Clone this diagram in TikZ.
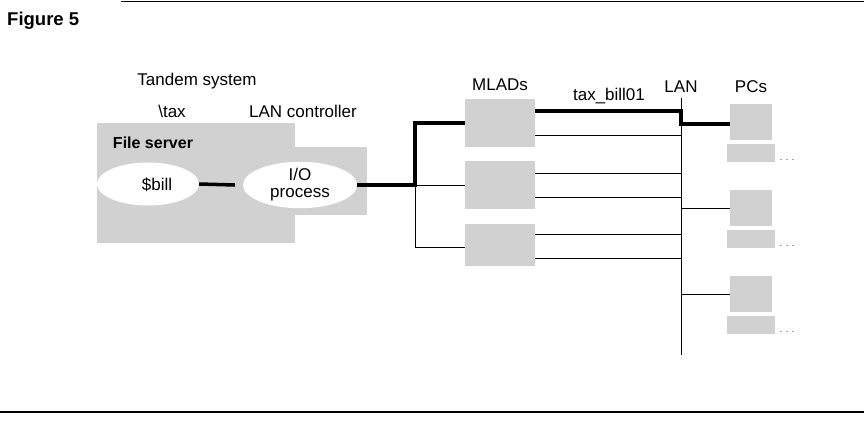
\documentclass[tikz,border=0pt]{standalone}
\usepackage{fontspec}
\setmainfont{Liberation Sans}
\usetikzlibrary{shapes.geometric}
\begin{document}
\begin{tikzpicture}[x=1pt,y=-1pt,
  shadebox/.style={fill=black!18, draw=none, inner sep=0pt},
  whiteell/.style={ellipse, fill=white, draw=none, inner sep=0pt},
  lbl/.style={font=\fontsize{17}{17}\selectfont, inner sep=0pt},
  thickln/.style={line width=3.5pt},
  thinln/.style={line width=1pt},
  rule/.style={line width=1.6pt}]
\useasboundingbox (0,0) rectangle (864,424);

% rules
\coordinate (rt1) at (121,1.5); \coordinate (rt2) at (864,1.5);
\coordinate (rb1) at (0,412); \coordinate (rb2) at (864,412);
\draw[rule] (rt1) -- (rt2);
\draw[rule] (rb1) -- (rb2);

\node[font=\bfseries\fontsize{18.5}{19}\selectfont, anchor=west, inner sep=0pt] (fig) at (7,21) {Figure 5};

% Tandem system shaded area
\node[shadebox, minimum width=198pt, minimum height=120pt] (tandem) at (196,183) {};
\node[shadebox, minimum width=130pt, minimum height=68pt] (lanctl) at (302,181) {};

\node[whiteell, minimum width=102pt, minimum height=43pt] (bill) at (148,184) {};
\node[lbl] (billtxt) at (157,185) {\$bill};
\node[whiteell, minimum width=114pt, minimum height=46pt, align=center, lbl] (io) at (300,185) {I/O\\process};

\node[lbl] (tandemlbl) at (197,81) {Tandem system};
\node[lbl] (taxlbl) at (172,111) {\textbackslash tax};
\node[lbl] (lanctllbl) at (303,111) {LAN controller};
\node[lbl, font=\bfseries\fontsize{16}{17}\selectfont] (fslbl) at (153,143) {File server};

% MLADs
\node[shadebox, minimum width=70pt, minimum height=48pt] (mlad1) at (500,123) {};
\node[shadebox, minimum width=70pt, minimum height=48pt] (mlad2) at (500,185) {};
\node[shadebox, minimum width=70pt, minimum height=42pt] (mlad3) at (500,245) {};
\node[lbl] (mladlbl) at (500,85) {MLADs};

% PCs
\foreach \i/\y in {1/122,2/208,3/294}{
  \node[shadebox, minimum width=42pt, minimum height=36pt] (pc\i) at (751,\y) {};
  \node[shadebox, minimum width=48pt, minimum height=18pt, anchor=north] (pcb\i) at ([yshift=-4pt]pc\i.south) {};
  \draw[black!35, line width=0.8pt, dash pattern=on 2pt off 4pt] ([xshift=5pt,yshift=3pt]pcb\i.south east) -- ++(18,0);
}
\node[lbl] (pclbl) at (751,87) {PCs};

% LAN
\coordinate (lanTop) at (681,98);
\coordinate (lanBot) at (681,355);
\node[lbl] (lanlbl) at (681,87) {LAN};
\draw[thinln] (lanTop) -- (lanBot);

% bus from I/O process
\coordinate (bus) at (415,185);
\draw[thickln] (bill.east) -- ([xshift=-8pt]io.west);
\draw[thickln] (io.east) -- (bus) |- (mlad1.west);
\draw[thinln] (bus) -- (mlad2.west |- bus);
\draw[thinln] (bus) |- ([yshift=-2pt]mlad3.west);

% MLAD to LAN
\coordinate (m1a) at ([yshift=12pt]mlad1.east);
\coordinate (m1b) at ([yshift=-12pt]mlad1.east);
\coordinate (m2a) at ([yshift=12pt]mlad2.east);
\coordinate (m2b) at ([yshift=-12pt]mlad2.east);
\coordinate (m3a) at ([yshift=11pt]mlad3.east);
\coordinate (m3b) at ([yshift=-13pt]mlad3.east);
\coordinate (j1) at (m1a -| lanTop);
\coordinate (j2) at (681,124);
\draw[thickln] (m1a) -- (j1) -- (j2) -- (pc1.west |- j2);
\node[lbl] (billlbl) at (609,96) {tax\_bill01};
\foreach \c in {m1b,m2a,m2b,m3a,m3b}{
  \draw[thinln] (\c) -- (\c -| lanTop);
}
\draw[thinln] (pc2.west -| lanTop) -- (pc2.west);
\draw[thinln] (pc3.west -| lanTop) -- (pc3.west);
\end{tikzpicture}
\end{document}
